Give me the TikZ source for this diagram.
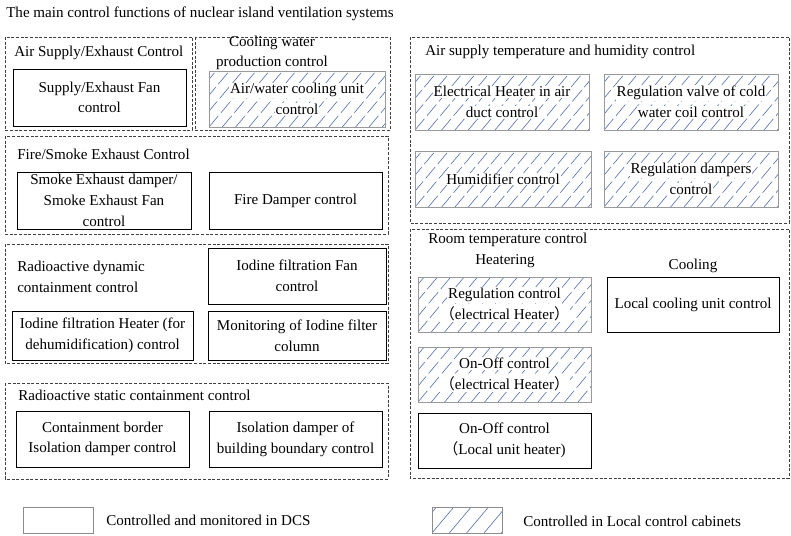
\documentclass[tikz,border=0pt]{standalone}
\usepackage{fontspec}
\setmainfont{Liberation Serif}
\newfontfamily\cjk{Noto Sans CJK SC}
\definecolor{hatchblue}{RGB}{80,110,175}
\newcommand{\wl}[1]{{\setlength{\fboxsep}{0.6pt}\colorbox{white}{#1}}}
\tikzset{
  every node/.style={font=\fontsize{11.3}{15.5}\selectfont},
  grp/.style={draw=black!75, line width=0.6pt, dash pattern=on 2.2pt off 1.3pt},
  hatchline/.style={draw=hatchblue, line width=0.45pt, dash pattern=on 11pt off 3pt},
  dcs/.style={draw=black, line width=0.7pt, align=center, inner sep=1pt},
  lcc/.style={draw=black!40, line width=0.7pt, align=center, inner sep=1pt,
    path picture={\foreach \k in {-5,...,14}
      \draw[hatchline] ([xshift=\k*10pt]path picture bounding box.south west) -- ++(50:70pt);}},
  sz/.style 2 args={minimum width=#1*0.75pt, minimum height=#2*0.75pt},
  gtitle/.style={anchor=west, inner sep=0pt, align=left},
}

\begin{document}
\begin{tikzpicture}[x=0.75pt,y=-0.75pt]
\useasboundingbox[fill=white] (0,0) rectangle (791,535);

\node[gtitle] (title) at (6,14) {The main control functions of nuclear island ventilation systems};

% left column: dashed groups
\draw[grp] (5,37) rectangle (192,130);
\draw[grp] (195,37) rectangle (390,130);
\draw[grp] (5,136) rectangle (388,234);
\draw[grp] (5,244) rectangle (388,363);
\draw[grp] (5,383) rectangle (388,479);

\node[gtitle] (tsupply) at (14,53) {Air Supply/Exhaust Control};
\node[inner sep=0pt, align=center] (tcoolw) at (272,53) {Cooling water\\production control};
\node[gtitle] (tfire) at (17,154) {Fire/Smoke Exhaust Control};
\node[gtitle] (tdyn) at (17,277) {Radioactive dynamic\\containment control};
\node[gtitle] (tstatic) at (18,395) {Radioactive static containment control};

\node[dcs, sz={173}{57}] (fan) at (99.5,97.5) {Supply/Exhaust Fan\\control};
\node[lcc, sz={176}{56}] (awc) at (297,99) {\wl{Air/water cooling unit}\\\wl{control}};
\node[dcs, sz={174}{57}] (smoke) at (104,200.5) {Smoke Exhaust damper/\\Smoke Exhaust Fan\\control};
\node[dcs, sz={173}{57}] (fire) at (295.5,200.5) {Fire Damper control};
\node[dcs, sz={178}{56}] (iofan) at (297,276) {Iodine filtration Fan\\control};
\node[dcs, sz={181}{49}] (ioheat) at (102.5,335.5) {Iodine filtration Heater (for\\dehumidification) control};
\node[dcs, sz={178}{49}] (iomon) at (297,335.5) {Monitoring of Iodine filter\\column};
\node[dcs, sz={173}{56}] (cbord) at (102.5,439) {Containment border\\Isolation damper control};
\node[dcs, sz={173}{56}] (isodmp) at (295.5,439) {Isolation damper of\\building boundary control};

% right column
\draw[grp] (410,37) rectangle (789,223);
\draw[grp] (410,229) rectangle (789,478);

\node[gtitle] (tair) at (425,52) {Air supply temperature and humidity control};
\node[gtitle] (troom) at (428,240) {Room temperature control};
\node[inner sep=0pt] (theat) at (505,261) {Heatering};
\node[inner sep=0pt] (tcool) at (693,266) {Cooling};

\node[lcc, sz={174}{56}] (elheat) at (502,102) {\wl{Electrical Heater in air}\\\wl{duct control}};
\node[lcc, sz={174}{56}] (regvalve) at (691,102) {\wl{Regulation valve of cold}\\\wl{water coil control}};
\node[lcc, sz={176}{56}] (humid) at (503,179) {\wl{Humidifier control}};
\node[lcc, sz={174}{56}] (regdmp) at (691,179) {\wl{Regulation dampers}\\\wl{control}};
\node[lcc, sz={173}{55}] (regctl) at (504.5,304.5) {\wl{Regulation control}\\\wl{{\cjk （}electrical Heater{\cjk ）}}};
\node[dcs, sz={172}{55}] (lcool) at (693,304.5) {Local cooling unit control};
\node[lcc, sz={173}{55}] (onoffel) at (504.5,374.5) {\wl{On-Off control}\\\wl{{\cjk （}electrical Heater{\cjk ）}}};
\node[dcs, sz={173}{55}] (onofflu) at (504.5,440.5) {On-Off control\\{\cjk （}Local unit heater)};

% legend
\node[draw=black!45, line width=0.6pt, sz={70}{26}] (keydcs) at (58,520) {};
\node[gtitle] (ldcs) at (106,520) {Controlled and monitored in DCS};
\node[draw=black!45, line width=0.6pt, sz={70}{26},
  path picture={\foreach \k in {-3,...,5}
    \draw[draw=hatchblue, line width=0.45pt] ([xshift=\k*13pt]path picture bounding box.south west) -- ++(50:40pt);}] (keylcc) at (467,520) {};
\node[gtitle] (llcc) at (523,521) {Controlled in Local control cabinets};
\end{tikzpicture}
\end{document}
